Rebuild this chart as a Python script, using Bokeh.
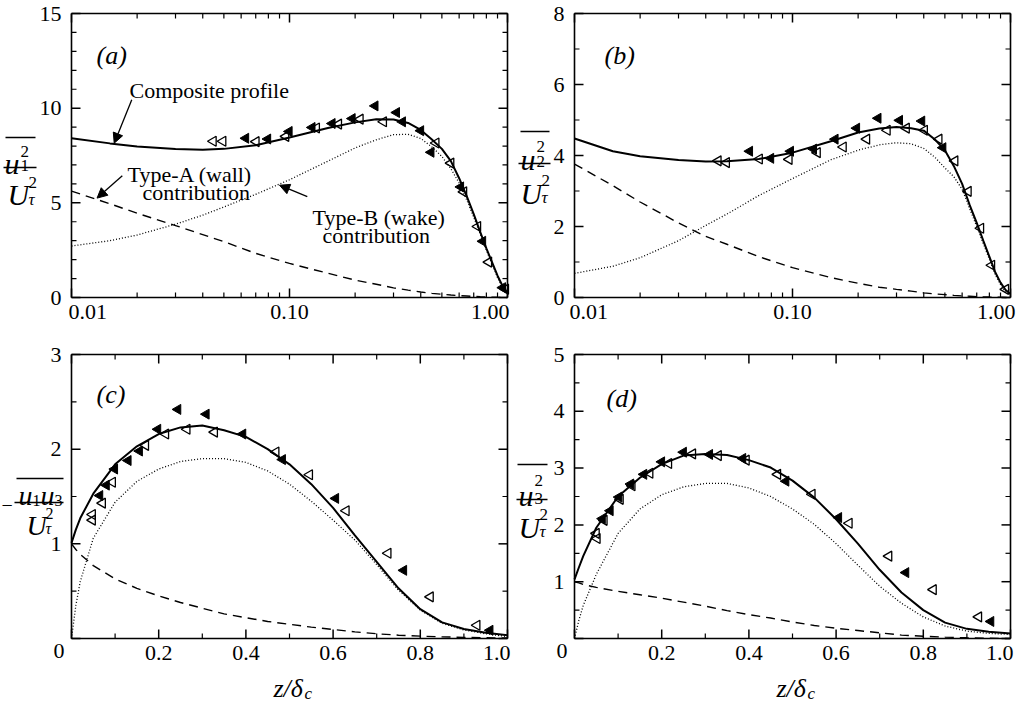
from math import pi
from bokeh.plotting import figure
from bokeh.layouts import row, column
from bokeh.models import (Range1d, LinearAxis, LogAxis, FixedTicker, PrintfTickFormatter,
                          CustomJSTickFormatter, Label, Arrow, NormalHead)
from bokeh.embed import file_html
from bokeh.resources import INLINE

SERIF = "Liberation Serif"

# ---------------- data ----------------
# (a) u1^2/U_tau^2 against z/delta_c (log axis)
za = [0.01, 0.015, 0.02, 0.03, 0.04, 0.05, 0.07, 0.1, 0.15, 0.2, 0.25, 0.3, 0.35,
      0.4, 0.45, 0.5, 0.55, 0.6, 0.65, 0.7, 0.75, 0.8, 0.85, 0.9, 0.95, 1.0]
a_comp = [8.41, 8.14, 7.98, 7.84, 7.80, 7.85, 8.04, 8.45, 8.95, 9.25, 9.42, 9.40, 9.22,
          8.85, 8.35, 7.85, 7.20, 6.30, 5.35, 4.40, 3.45, 2.60, 1.85, 1.15, 0.60, 0.25]
a_wall = [5.62, 4.95, 4.45, 3.80, 3.32, 2.95, 2.33, 1.80, 1.28, 0.92, 0.70, 0.51, 0.39,
          0.29, 0.22, 0.17, 0.13, 0.10, 0.08, 0.06, 0.04, 0.03, 0.02, 0.01, 0.005, 0.0]
a_wake = [2.72, 3.00, 3.30, 3.87, 4.35, 4.78, 5.45, 6.22, 7.20, 7.90, 8.33, 8.60, 8.62,
          8.40, 7.95, 7.45, 6.80, 6.05, 5.15, 4.25, 3.35, 2.50, 1.75, 1.05, 0.50, 0.17]
a_fill_z = [0.063, 0.0795, 0.0997, 0.127, 0.157, 0.194, 0.247, 0.31, 0.33, 0.40, 0.446, 0.61, 0.77, 0.95]
a_fill_v = [8.41, 8.37, 8.77, 8.98, 9.19, 9.45, 10.12, 9.77, 9.28, 8.81, 7.67, 5.84, 2.97, 0.52]
a_open_z = [0.0447, 0.0495, 0.0703, 0.0962, 0.133, 0.168, 0.211, 0.27, 0.47, 0.55, 0.63, 0.73, 0.82, 0.98]
a_open_v = [8.25, 8.25, 8.23, 8.51, 8.95, 9.16, 9.42, 9.28, 8.16, 7.10, 5.58, 3.75, 1.87, 0.44]

# (b) u2^2/U_tau^2
b_comp = [4.48, 4.12, 3.98, 3.87, 3.83, 3.84, 3.90, 4.08, 4.40, 4.65, 4.76, 4.80, 4.77,
          4.70, 4.45, 4.15, 3.70, 3.20, 2.60, 2.10, 1.60, 1.15, 0.72, 0.42, 0.21, 0.10]
b_wall = [3.76, 3.15, 2.69, 2.10, 1.72, 1.50, 1.15, 0.84, 0.56, 0.40, 0.29, 0.23, 0.18,
          0.13, 0.10, 0.08, 0.06, 0.045, 0.035, 0.025, 0.018, 0.012, 0.008, 0.005, 0.002, 0.0]
b_wake = [0.68, 0.88, 1.12, 1.60, 2.03, 2.35, 2.87, 3.35, 3.88, 4.15, 4.30, 4.36, 4.33,
          4.20, 3.95, 3.65, 3.40, 3.05, 2.50, 2.00, 1.52, 1.08, 0.65, 0.36, 0.15, 0.07]
b_fill_z = [0.0636, 0.0795, 0.098, 0.125, 0.157, 0.197, 0.247, 0.31, 0.392, 0.49]
b_fill_v = [4.12, 3.92, 4.12, 4.18, 4.46, 4.77, 5.05, 4.99, 4.97, 4.22]
b_open_z = [0.0456, 0.0498, 0.0705, 0.0965, 0.13, 0.171, 0.219, 0.272, 0.333, 0.403,
            0.47, 0.556, 0.64, 0.73, 0.82, 0.95]
b_open_v = [3.85, 3.80, 3.90, 3.89, 4.08, 4.24, 4.46, 4.71, 4.77, 4.71,
            4.46, 3.85, 2.99, 1.95, 0.91, 0.23]

# (c) -u1u3/U_tau^2 against z/delta_c (linear)
zc = [0.0, 0.01, 0.02, 0.05, 0.1, 0.15, 0.2, 0.25, 0.3, 0.35, 0.4, 0.45, 0.5,
      0.55, 0.6, 0.65, 0.7, 0.75, 0.8, 0.85, 0.9, 0.95, 1.0]
c_comp = [1.01, 1.15, 1.27, 1.53, 1.84, 2.03, 2.16, 2.23, 2.25, 2.20, 2.13, 2.00, 1.84,
          1.63, 1.38, 1.09, 0.81, 0.53, 0.31, 0.17, 0.10, 0.06, 0.035]
c_wall = [1.0, 0.94, 0.89, 0.77, 0.63, 0.53, 0.45, 0.38, 0.32, 0.26, 0.22, 0.18, 0.15,
          0.12, 0.095, 0.07, 0.05, 0.035, 0.025, 0.017, 0.012, 0.008, 0.005]
c_wake = [0.0, 0.35, 0.60, 1.06, 1.44, 1.66, 1.79, 1.87, 1.90, 1.90, 1.86, 1.77, 1.63,
          1.45, 1.25, 1.04, 0.78, 0.51, 0.30, 0.16, 0.09, 0.05, 0.02]
c_fill_z = [0.065, 0.08, 0.099, 0.13, 0.156, 0.198, 0.244, 0.309, 0.393, 0.484, 0.606, 0.762, 0.96]
c_fill_v = [1.51, 1.62, 1.79, 1.88, 1.98, 2.21, 2.42, 2.37, 2.16, 1.89, 1.48, 0.72, 0.087]
c_open_z = [0.048, 0.048, 0.071, 0.094, 0.17, 0.216, 0.265, 0.328, 0.469, 0.546, 0.63, 0.726, 0.823, 0.93]
c_open_v = [1.31, 1.25, 1.43, 1.65, 2.04, 2.16, 2.21, 2.18, 1.97, 1.73, 1.35, 0.90, 0.44, 0.14]

# (d) u3^2/U_tau^2
d_comp = [1.04, 1.25, 1.45, 1.95, 2.50, 2.83, 3.07, 3.22, 3.25, 3.23, 3.14, 3.01, 2.78,
          2.48, 2.10, 1.67, 1.21, 0.81, 0.50, 0.28, 0.17, 0.12, 0.09]
d_wall = [1.0, 0.98, 0.95, 0.90, 0.83, 0.77, 0.71, 0.64, 0.57, 0.49, 0.42, 0.36, 0.29,
          0.23, 0.18, 0.14, 0.10, 0.06, 0.04, 0.025, 0.012, 0.005, 0.0]
d_wake = [0.0, 0.32, 0.58, 1.13, 1.85, 2.28, 2.53, 2.67, 2.73, 2.73, 2.65, 2.50, 2.28,
          2.01, 1.67, 1.29, 0.92, 0.62, 0.38, 0.22, 0.13, 0.09, 0.07]
d_fill_z = [0.064, 0.082, 0.102, 0.129, 0.159, 0.2, 0.25, 0.31, 0.386, 0.485, 0.606, 0.76, 0.955]
d_fill_v = [2.11, 2.25, 2.49, 2.72, 2.89, 3.11, 3.28, 3.24, 3.17, 2.77, 2.13, 1.16, 0.30]
d_open_z = [0.05, 0.052, 0.068, 0.105, 0.132, 0.173, 0.216, 0.271, 0.33, 0.394, 0.466,
            0.545, 0.63, 0.721, 0.823, 0.927]
d_open_v = [1.85, 1.76, 2.08, 2.45, 2.69, 2.91, 3.08, 3.25, 3.22, 3.14, 2.89,
            2.54, 2.03, 1.45, 0.86, 0.38]

# tick values
log_major = [0.01, 0.1, 1.0]
log_minor = [0.02, 0.03, 0.04, 0.05, 0.06, 0.07, 0.08, 0.09,
             0.2, 0.3, 0.4, 0.5, 0.6, 0.7, 0.8, 0.9]
lin_major = [0.0, 0.2, 0.4, 0.6, 0.8, 1.0]
lin_minor = [0.1, 0.3, 0.5, 0.7, 0.9]

# ---------------- layout (pixels) ----------------
FW, FH = 436, 284          # size of the plotting box
TICK_FS = "22px"
NOLABEL = "return ''"
MAJ_LEN, MIN_LEN = 9, 5


def edge_axis(ax, labels, standoff=0):
    """Axis drawing a box edge (and, for two of them, the tick labels)."""
    ax.major_tick_in = 0
    ax.major_tick_out = 0
    ax.minor_tick_in = 0
    ax.minor_tick_out = 0
    ax.major_tick_line_color = None
    ax.minor_tick_line_color = None
    ax.axis_line_color = "black"
    ax.axis_line_width = 1.6
    ax.major_label_text_font = SERIF
    ax.major_label_text_font_size = TICK_FS
    ax.major_label_text_color = "black"
    ax.major_label_standoff = standoff
    ax.background_fill_color = None
    if not labels:
        ax.formatter = CustomJSTickFormatter(code=NOLABEL)


class Panel:
    def __init__(self, xlog, ymax, y_major, y_minor, W, H, BL, BB):
        self.BL, self.BB = BL, BB
        top_gap = H - BB - FH
        dec = FW / 2.0
        if xlog:
            xr = Range1d(10 ** (-2 - BL / dec), 10 ** (-2 + (W - BL) / dec))
            x0, x1 = 0.01, 1.0
        else:
            xr = Range1d(-BL / FW, (W - BL) / FW)
            x0, x1 = 0.0, 1.0
        k = ymax / FH
        yr = Range1d(-BB * k, ymax + top_gap * k)
        p = figure(width=W, height=H, x_axis_type="log" if xlog else "linear",
                   x_axis_location=None, y_axis_location=None,
                   x_range=xr, y_range=yr, output_backend="svg", toolbar_location=None,
                   min_border=0, background_fill_color="white", border_fill_color="white")
        p.outline_line_color = None
        p.grid.visible = False
        xmaj = log_major if xlog else lin_major
        xmin = log_minor if xlog else lin_minor

        # inward tick marks on all four edges, at the tick values
        def xin(x, L):
            return x * 10 ** (L / dec) if xlog else x + L / FW

        for xs, ys, L, w in ((xmaj, y_major, MAJ_LEN, 1.5), (xmin, y_minor, MIN_LEN, 1.2)):
            sx0, sy0, sx1, sy1 = [], [], [], []
            for t in xs:
                sx0 += [t, t]
                sx1 += [t, t]
                sy0 += [0, ymax]
                sy1 += [L * k, ymax - L * k]
            for t in ys:
                sx0 += [x0, x1]
                sx1 += [xin(x0, L), xin(x1, -L)]
                sy0 += [t, t]
                sy1 += [t, t]
            p.segment(x0=sx0, y0=sy0, x1=sx1, y1=sy1, line_color="black", line_width=w)

        xt = FixedTicker(ticks=xmaj, minor_ticks=xmin)
        yt = FixedTicker(ticks=y_major, minor_ticks=y_minor)
        Ax = LogAxis if xlog else LinearAxis
        xb = (x0, x1)
        yb = (0, ymax)
        bottom = Ax(ticker=xt, fixed_location=0, bounds=xb)
        left = LinearAxis(ticker=yt, fixed_location=x0, bounds=yb)
        top = Ax(ticker=xt, fixed_location=ymax, bounds=xb)
        right = LinearAxis(ticker=yt, fixed_location=x1, bounds=yb)
        edge_axis(bottom, True, 7)
        edge_axis(left, True, 10)
        edge_axis(top, False)
        edge_axis(right, False)
        if xlog:
            bottom.formatter = PrintfTickFormatter(format="%.2f")
            bottom.major_label_overrides = {0.01: "", 1.0: ""}
        else:
            bottom.formatter = PrintfTickFormatter(format="%.1f")
            bottom.major_label_overrides = {0.0: "", 1.0: ""}
            left.major_label_overrides = {0: ""}
        p.add_layout(bottom, "below")
        p.add_layout(left, "left")
        p.add_layout(top, "above")
        p.add_layout(right, "right")
        self.p = p

    # text relative to the bottom-left corner of the plotting box (screen px, y up)
    def txt(self, text, x, y, size, italic=False, align="left", baseline="alphabetic"):
        self.p.add_layout(Label(x=self.BL + x, y=self.BB + y, x_units="screen", y_units="screen",
                                text=text, text_font=SERIF, text_font_size=f"{size}px",
                                text_font_style="italic" if italic else "normal",
                                text_align=align, text_baseline=baseline, text_color="black"))

    def bar(self, x0, x1, y, w=1.6):
        self.p.add_layout(Arrow(start=None, end=None,
                                x_start=self.BL + x0, y_start=self.BB + y,
                                x_end=self.BL + x1, y_end=self.BB + y,
                                start_units="screen", end_units="screen",
                                line_color="black", line_width=w))

    def draw(self, z, comp, wall, wake, fz, fv, oz, ov):
        p = self.p
        p.line(z, wake, line_color="black", line_width=1.3, line_dash="1 2")
        p.line(z, wall, line_color="black", line_width=1.4, line_dash="9 6")
        p.line(z, comp, line_color="black", line_width=2.0)
        p.scatter(oz, ov, marker="triangle", angle=pi / 2, size=10,
                  fill_color=None, line_color="black", line_width=1.3)
        p.scatter(fz, fv, marker="triangle", angle=pi / 2, size=10,
                  fill_color="black", line_color="black", line_width=1.0)

    def arrow(self, xs, ys, xe, ye):
        self.p.add_layout(Arrow(end=NormalHead(size=10, fill_color="black", line_color="black",
                                               line_width=1),
                                x_start=xs, y_start=ys, x_end=xe, y_end=ye,
                                line_color="black", line_width=1.3))

    def fraction(self, sub, ov, u, sup_y, sub_y, fb, U, supd_y, subd_y, big=30, small=17):
        """Mean-square over U_tau^2: overline, u with scripts, fraction bar, U with scripts."""
        self.bar(ov[0], ov[1], ov[2])
        self.txt("u", u[0], u[1], big, italic=True)
        sx = u[0] + 0.5 * big + 1
        self.txt("2", sx, sup_y, small)
        self.txt(sub, sx, sub_y, small)
        self.bar(fb[0], fb[1], fb[2])
        self.txt("U", U[0], U[1], big, italic=True)
        dx = U[0] + 0.7 * big
        self.txt("2", dx, supd_y, small)
        self.txt("τ", dx, subd_y, small, italic=True)


TOP_H = 13 + FH + 35
BOT_H = 22 + FH + 64
LW, RW = 513, 504

# ----- panel (a) -----
A = Panel(True, 15, [0, 5, 10, 15], [1, 2, 3, 4, 6, 7, 8, 9, 11, 12, 13, 14], LW, TOP_H, 71, 35)
A.draw(za, a_comp, a_wall, a_wake, a_fill_z, a_fill_v, a_open_z, a_open_v)
A.txt("(a)", 25, FH - 42, 26, italic=True)
A.fraction("1", (-66, -36, 160), (-67, 134), 146, 132, (-68, -35, 130), (-64, 103), 115, 98)
A.txt("0.01", -3, -7, 22, baseline="top")
A.txt("1.00", FW + 2, -7, 22, align="right", baseline="top")
A.txt("Composite profile", 58, 207, 22)
A.txt("Type-A (wall)", 56, 123, 22)
A.txt("contribution", 71, 105, 22)
A.txt("Type-B (wake)", 241, 80, 22)
A.txt("contribution", 251, 62, 22)
A.arrow(0.0189, 10.45, 0.0157, 8.15)
A.arrow(0.0171, 6.43, 0.0131, 5.25)
A.arrow(0.1207, 5.33, 0.0900, 5.93)

# ----- panel (b) -----
B = Panel(True, 8, [0, 2, 4, 6, 8], [1, 3, 5, 7], RW, TOP_H, 61, 35)
B.draw(za, b_comp, b_wall, b_wake, b_fill_z, b_fill_v, b_open_z, b_open_v)
B.txt("(b)", 30, FH - 42, 26, italic=True)
B.fraction("2", (-54, -25, 166), (-54, 138), 151, 136, (-56, -24, 134), (-54, 104), 117, 100)
B.txt("0.01", -5, -7, 22, baseline="top")
B.txt("1.00", FW + 5, -7, 22, align="right", baseline="top")

# ----- panel (c) -----
C = Panel(False, 3, [0, 1, 2, 3], [0.5, 1.5, 2.5], LW, BOT_H, 71, 64)
C.draw(zc, c_comp, c_wall, c_wake, c_fill_z, c_fill_v, c_open_z, c_open_v)
C.txt("(c)", 25, FH - 40, 26, italic=True)
C.txt("−", -70, 134, 20)
C.bar(-55, -8, 160)
C.txt("u", -53, 143, 28, italic=True)
C.txt("1", -39, 138, 16)
C.txt("u", -31, 143, 28, italic=True)
C.txt("3", -17, 138, 16)
C.bar(-57, -8, 136)
C.txt("U", -45, 113, 28, italic=True)
C.txt("2", -26, 125, 16)
C.txt("τ", -26, 110, 16, italic=True)
C.txt("0", -7, -5, 22, align="right", baseline="top")
C.txt("1.0", FW + 3, -7, 22, align="right", baseline="top")
C.txt("z/δ", 202, -50, 26, italic=True)
C.txt("c", 233, -55, 17, italic=True)

# ----- panel (d) -----
D = Panel(False, 5, [0, 1, 2, 3, 4, 5], [0.5, 1.5, 2.5, 3.5, 4.5], RW, BOT_H, 61, 64)
D.draw(zc, d_comp, d_wall, d_wake, d_fill_z, d_fill_v, d_open_z, d_open_v)
D.txt("(d)", 32, FH - 44, 26, italic=True)
D.fraction("3", (-57, -27, 174), (-56, 143), 158, 140, (-58, -27, 139), (-56, 111), 124, 107)
D.txt("0", -7, -5, 22, align="right", baseline="top")
D.txt("1.0", FW + 3, -7, 22, align="right", baseline="top")
D.txt("z/δ", 202, -50, 26, italic=True)
D.txt("c", 233, -55, 17, italic=True)

layout = column(row(A.p, B.p), row(C.p, D.p))
open("out.html", "w").write(file_html(layout, INLINE))
